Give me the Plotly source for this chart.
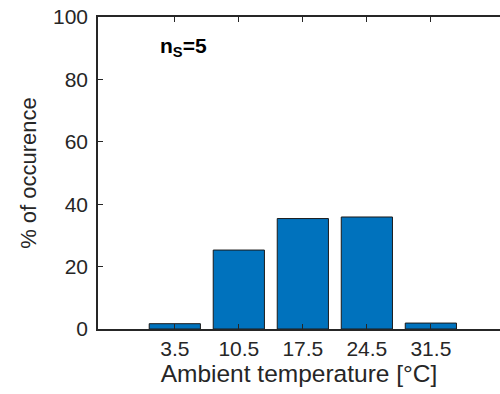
import plotly.graph_objects as go

categories = ["3.5", "10.5", "17.5", "24.5", "31.5"]
occurrence = [1.7, 25.3, 35.4, 35.9, 1.9]
y_ticks = [0, 20, 40, 60, 80, 100]

positions = list(range(1, len(categories) + 1))

FONT = "Liberation Sans, Arial, Helvetica, sans-serif"
AX = "#262626"

fig = go.Figure()
fig.add_trace(go.Bar(
    x=positions, y=occurrence, width=0.8,
    marker=dict(color="#0072BD", line=dict(color="#1a1a1a", width=1)),
))

fig.update_layout(
    width=500, height=394,
    margin=dict(l=98, r=0, t=17, b=65, autoexpand=False),
    paper_bgcolor="white", plot_bgcolor="white",
    showlegend=False,
    font=dict(family=FONT, size=21, color=AX),
    xaxis=dict(
        range=[-0.2, 6.08], tickmode="array", tickvals=positions, ticktext=categories,
        ticks="inside", ticklen=5, tickwidth=1.3, tickcolor=AX,
        showline=True, linecolor=AX, linewidth=1.6, mirror="ticks",
        showgrid=False, zeroline=False, automargin=False,
        tickfont=dict(size=21, color=AX),
        title=dict(text="Ambient temperature [°C]", font=dict(size=24.5, color=AX), standoff=2),
    ),
    yaxis=dict(
        range=[0, 100], tickmode="array", tickvals=y_ticks,
        ticks="inside", ticklen=5, tickwidth=1.3, tickcolor=AX,
        showline=True, linecolor=AX, linewidth=1.6, mirror=False,
        showgrid=False, zeroline=False, automargin=False,
        ticklabelstandoff=4,
        tickfont=dict(size=21, color=AX),
        title=dict(text="% of occurence", font=dict(size=22, color=AX), standoff=10),
    ),
    annotations=[dict(
        text="<b>n<sub>S</sub>=5</b>", xref="paper", yref="paper",
        x=0.212, y=0.905, xanchor="center", yanchor="middle",
        showarrow=False, font=dict(size=21, color="black"),
    )],
)

fig.write_html(
    "out.html",
    config={"displayModeBar": False},
    post_script="document.body.style.margin='0px';document.body.style.overflow='hidden';",
)
